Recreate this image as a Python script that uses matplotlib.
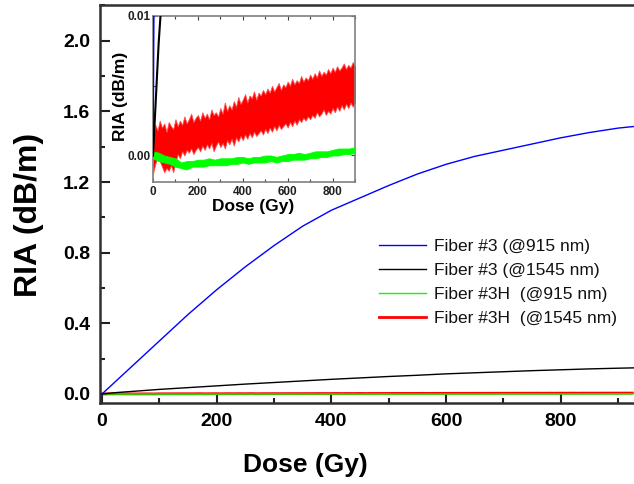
import matplotlib
matplotlib.use("Agg")
import matplotlib.pyplot as plt
from matplotlib.ticker import MultipleLocator, FixedLocator, FormatStrFormatter

plt.rcParams['font.family'] = ['Liberation Sans', 'DejaVu Sans']

# ---------------- data ----------------
dose = [0, 25, 50, 100, 150, 200, 250, 300, 350, 400, 450, 500, 550, 600,
        650, 700, 750, 800, 850, 900, 930]
ria_f3_915 = [0.0, 0.075, 0.15, 0.30, 0.45, 0.59, 0.72, 0.84, 0.95, 1.04, 1.11,
              1.18, 1.245, 1.30, 1.345, 1.38, 1.415, 1.45, 1.48, 1.505, 1.515]
ria_f3_1545 = [0.0, 0.008, 0.014, 0.026, 0.036, 0.046, 0.056, 0.065, 0.074, 0.083,
               0.091, 0.099, 0.106, 0.114, 0.120, 0.126, 0.132, 0.137, 0.142,
               0.146, 0.148]

# Fiber #3H @1545 nm: noisy band, upper / lower envelopes every 10 Gy
dose_h = list(range(0, 901, 10)) + [925]
ria_f3h_1545_hi = [
    0.0010, 0.0022, 0.0018, 0.0025, 0.0020, 0.0023, 0.0017, 0.0024, 0.0021, 0.0019,
    0.0026, 0.0021, 0.0025, 0.0022, 0.0028, 0.0023, 0.0026, 0.0030, 0.0024, 0.0027,
    0.0029, 0.0025, 0.0031, 0.0027, 0.0030, 0.0026, 0.0033, 0.0029, 0.0031, 0.0028,
    0.0034, 0.0030, 0.0038, 0.0032, 0.0036, 0.0033, 0.0039, 0.0035, 0.0042, 0.0037,
    0.0040, 0.0044, 0.0038, 0.0043, 0.0041, 0.0046, 0.0040, 0.0045, 0.0043, 0.0047,
    0.0044, 0.0048, 0.0045, 0.0050, 0.0046, 0.0049, 0.0052, 0.0047, 0.0051, 0.0049,
    0.0053, 0.0050, 0.0055, 0.0051, 0.0054, 0.0052, 0.0057, 0.0053, 0.0056, 0.0054,
    0.0058, 0.0055, 0.0059, 0.0056, 0.0061, 0.0057, 0.0060, 0.0058, 0.0062, 0.0059,
    0.0063, 0.0060, 0.0064, 0.0061, 0.0063, 0.0066, 0.0062, 0.0065, 0.0063, 0.0067,
    0.0064, 0.0066]
ria_f3h_1545_lo = [
    -0.0013, -0.0006, -0.0002, -0.0004, -0.0008, -0.0012, -0.0009, -0.0011, -0.0007, -0.0012,
    -0.0005, 0.0001, -0.0002, 0.0003, 0.0000, 0.0004, 0.0002, 0.0005, 0.0001, 0.0004,
    0.0006, 0.0003, 0.0007, 0.0004, 0.0008, 0.0005, 0.0009, 0.0003, 0.0007, 0.0010,
    0.0006, 0.0009, 0.0005, 0.0011, 0.0008, 0.0012, 0.0007, 0.0013, 0.0010, 0.0014,
    0.0011, 0.0015, 0.0012, 0.0016, 0.0013, 0.0017, 0.0014, 0.0016, 0.0018, 0.0015,
    0.0019, 0.0016, 0.0020, 0.0017, 0.0021, 0.0018, 0.0022, 0.0019, 0.0021, 0.0023,
    0.0020, 0.0024, 0.0021, 0.0025, 0.0022, 0.0026, 0.0024, 0.0027, 0.0025, 0.0028,
    0.0026, 0.0029, 0.0027, 0.0031, 0.0028, 0.0030, 0.0033, 0.0029, 0.0032, 0.0030,
    0.0034, 0.0031, 0.0035, 0.0032, 0.0036, 0.0033, 0.0037, 0.0034, 0.0038, 0.0035,
    0.0038, 0.0039]

# Fiber #3H @915 nm: thin noisy band, envelopes every 25 Gy
dose_g = list(range(0, 901, 25)) + [925]
ria_f3h_915_hi = [0.0003, 0.0002, 0.0000, -0.0001, -0.0002, -0.0005, -0.0004, -0.0004,
                  -0.0003, -0.0003, -0.0002, -0.0003, -0.0002, -0.0002, -0.0002, -0.0001,
                  -0.0001, -0.0002, -0.0001, -0.0001, 0.0000, 0.0000, -0.0001, 0.0000,
                  0.0001, 0.0001, 0.0002, 0.0001, 0.0002, 0.0003, 0.0003, 0.0003,
                  0.0004, 0.0005, 0.0005, 0.0005, 0.0006, 0.0006]
ria_f3h_915_lo = [-0.0002, -0.0004, -0.0005, -0.0006, -0.0008, -0.0009, -0.0010, -0.0008,
                  -0.0008, -0.0008, -0.0007, -0.0007, -0.0007, -0.0007, -0.0006, -0.0006,
                  -0.0005, -0.0006, -0.0005, -0.0005, -0.0005, -0.0004, -0.0005, -0.0004,
                  -0.0004, -0.0003, -0.0003, -0.0003, -0.0002, -0.0002, -0.0001, -0.0001,
                  0.0000, 0.0000, 0.0001, 0.0001, 0.0002, 0.0002]

labels = ['Fiber #3 (@915 nm)', 'Fiber #3 (@1545 nm)',
          'Fiber #3H  (@915 nm)', 'Fiber #3H  (@1545 nm)']
colors = ['#0000ff', '#000000', '#00ff00', '#ff0000']

ria_f3h_1545_mid = [(a + b) / 2 for a, b in zip(ria_f3h_1545_hi, ria_f3h_1545_lo)]
ria_f3h_915_mid = [(a + b) / 2 for a, b in zip(ria_f3h_915_hi, ria_f3h_915_lo)]

# ---------------- figure ----------------
W, H = 634, 484
fig = plt.figure(figsize=(W / 100, H / 100), dpi=100)

def rect(x0, y0, x1, y1):
    return [x0 / W, 1 - y1 / H, (x1 - x0) / W, (y1 - y0) / H]

ax = fig.add_axes(rect(100, 5, 634, 403))
ax.plot(dose, ria_f3_915, color=colors[0], lw=1.0, label=labels[0], zorder=3)
ax.plot(dose, ria_f3_1545, color=colors[1], lw=1.0, label=labels[1], zorder=3)
ax.plot(dose_g, ria_f3h_915_mid, color=colors[2], lw=1.0, label=labels[2], zorder=2.5)
ax.plot(dose_h, ria_f3h_1545_mid, color=colors[3], lw=2.0, label=labels[3], zorder=2)

ax.set_xlim(-3.5, 928)
ax.set_ylim(-0.051, 2.202)
ax.xaxis.set_major_locator(MultipleLocator(200))
ax.xaxis.set_minor_locator(MultipleLocator(100))
ax.yaxis.set_major_locator(MultipleLocator(0.4))
ax.yaxis.set_minor_locator(MultipleLocator(0.2))
ax.yaxis.set_major_formatter(FormatStrFormatter('%.1f'))
ax.tick_params(which='both', direction='in', width=1.5, colors='#202020')
ax.tick_params(which='major', length=7)
ax.tick_params(which='minor', length=3.5)
ax.tick_params(axis='x', pad=7)
ax.tick_params(axis='y', pad=7)
for lab in ax.get_xticklabels() + ax.get_yticklabels():
    lab.set_fontsize(14)
    lab.set_fontweight('bold')
    lab.set_color('black')
for s in ['left', 'bottom', 'top']:
    ax.spines[s].set_linewidth(1.8)
    ax.spines[s].set_color('#303030')
ax.spines['right'].set_visible(False)

ax.set_xlabel('Dose (Gy)', fontsize=19, fontweight='bold', va='center', ha='center')
ax.xaxis.set_label_coords((305 - 100) / 534, (403 - 465) / 398)
ax.set_ylabel('RIA (dB/m)', fontsize=23, fontweight='bold', va='center', ha='center')
ax.yaxis.set_label_coords((29 - 100) / 534, (403 - 215) / 398)

leg = ax.legend(loc='upper left', bbox_to_anchor=((379 - 100) / 534, (403 - 239) / 398),
                frameon=False, fontsize=12.5, handlelength=2.7, handletextpad=0.45,
                labelspacing=0.5, borderpad=0, borderaxespad=0)
for t in leg.get_texts():
    t.set_color('#111111')

# ---------------- inset ----------------
ins = fig.add_axes(rect(153, 16, 355, 182))
ins.fill_between(dose_h, ria_f3h_1545_lo, ria_f3h_1545_hi, facecolor=colors[3],
                 edgecolor='#ff5050', lw=0.6, zorder=2)
ins.fill_between(dose_g, ria_f3h_915_lo, ria_f3h_915_hi, facecolor=colors[2],
                 edgecolor=colors[2], lw=0.6, zorder=3)
ins.plot(dose, ria_f3_915, color=colors[0], lw=1.2, zorder=4)
ins.plot(dose, ria_f3_1545, color=colors[1], lw=1.5, zorder=4)
ins.set_xlim(0, 900)
ins.set_ylim(-0.0019, 0.0100)
ins.xaxis.set_major_locator(MultipleLocator(200))
ins.xaxis.set_minor_locator(MultipleLocator(100))
ins.yaxis.set_major_locator(FixedLocator([0.0, 0.01]))
ins.yaxis.set_minor_locator(FixedLocator([0.005]))
ins.yaxis.set_major_formatter(FormatStrFormatter('%.2f'))
ins.tick_params(which='both', direction='in', top=True, right=True, width=0.8,
                colors='#404040')
ins.tick_params(which='major', length=3)
ins.tick_params(which='minor', length=2)
ins.tick_params(axis='x', pad=3)
ins.tick_params(axis='y', pad=1.5)
for lab in ins.get_xticklabels() + ins.get_yticklabels():
    lab.set_fontsize(8.5)
    lab.set_fontweight('bold')
    lab.set_color('#202020')
for s in ins.spines.values():
    s.set_color('#808080')
    s.set_linewidth(1.2)
ins.set_xlabel('Dose (Gy)', fontsize=12.5, fontweight='bold', va='center', ha='center')
ins.xaxis.set_label_coords((253 - 153) / 202, (182 - 207) / 166)
ins.set_ylabel('RIA (dB/m)', fontsize=12.5, fontweight='bold', va='center', ha='center')
ins.yaxis.set_label_coords((120 - 153) / 202, (182 - 96) / 166)

fig.savefig('out.png', dpi=100)
